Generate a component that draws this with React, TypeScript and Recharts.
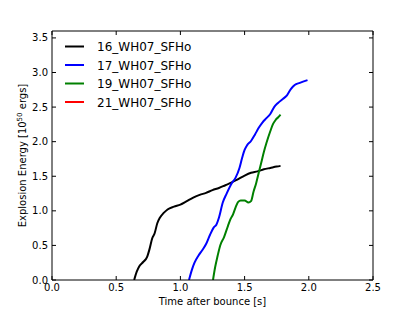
import React from "react";
import { LineChart, Line, XAxis, YAxis, Label } from "recharts";

// ---- data ----
const SERIES_NAMES = ["16_WH07_SFHo", "17_WH07_SFHo", "19_WH07_SFHo", "21_WH07_SFHo"];
const SERIES_COLORS = ["#000000", "#0000ff", "#008000", "#ff0000"];

const X_TICKS = [0, 0.5, 1.0, 1.5, 2.0, 2.5];
const Y_TICKS = [0, 0.5, 1.0, 1.5, 2.0, 2.5, 3.0, 3.5];

const t16 = [0.64, 0.66, 0.68, 0.71, 0.74, 0.76, 0.78, 0.8, 0.82, 0.84, 0.87, 0.9, 0.95, 1.0, 1.05, 1.1, 1.15, 1.2, 1.25, 1.3, 1.35, 1.4, 1.45, 1.5, 1.55, 1.6, 1.65, 1.7, 1.75, 1.78];
const e16 = [0.0, 0.12, 0.2, 0.26, 0.33, 0.45, 0.6, 0.68, 0.82, 0.9, 0.97, 1.02, 1.06, 1.09, 1.14, 1.19, 1.23, 1.26, 1.3, 1.33, 1.37, 1.41, 1.46, 1.51, 1.55, 1.57, 1.6, 1.62, 1.64, 1.65];

const t17 = [1.067, 1.09, 1.11, 1.14, 1.17, 1.2, 1.23, 1.26, 1.28, 1.3, 1.33, 1.36, 1.4, 1.43, 1.46, 1.48, 1.5, 1.52, 1.55, 1.58, 1.61, 1.64, 1.67, 1.7, 1.73, 1.76, 1.8, 1.83, 1.86, 1.89, 1.93, 1.99];
const e17 = [0.0, 0.15, 0.25, 0.35, 0.43, 0.52, 0.65, 0.76, 0.8, 0.9, 1.12, 1.25, 1.4, 1.48, 1.62, 1.76, 1.88, 1.95, 2.01, 2.1, 2.2, 2.28, 2.34, 2.4, 2.5, 2.56, 2.62, 2.67, 2.76, 2.82, 2.85, 2.89];

const t19 = [1.254, 1.27, 1.29, 1.31, 1.34, 1.37, 1.39, 1.41, 1.43, 1.45, 1.47, 1.5, 1.53, 1.55, 1.57, 1.59, 1.61, 1.63, 1.65, 1.67, 1.7, 1.72, 1.74, 1.76, 1.78];
const e19 = [0.0, 0.18, 0.35, 0.5, 0.62, 0.78, 0.88, 0.95, 1.05, 1.13, 1.15, 1.15, 1.12, 1.14, 1.28, 1.4, 1.55, 1.7, 1.85, 1.98, 2.15, 2.25, 2.31, 2.35, 2.39];

// 21_WH07_SFHo has no visible curve in the plot
const t21: number[] = [];
const e21: number[] = [];

const zip = (ts: number[], es: number[]) => ts.map((t, i) => ({ t, e: es[i] }));
const SERIES = [zip(t16, e16), zip(t17, e17), zip(t19, e19), zip(t21, e21)];

const FONT = "DejaVu Sans, sans-serif";
const W = 415;
const H = 312;

// matplotlib-style inward ticks
function BottomTick({ x, y, payload }: any) {
  return (
    <g>
      <line x1={x} y1={y} x2={x} y2={y - 4} stroke="#000" />
      <text x={x} y={y + 11} textAnchor="middle" fontSize={10} fontFamily={FONT} fill="#000">
        {Number(payload.value).toFixed(1)}
      </text>
    </g>
  );
}
function TopTick({ x, y }: any) {
  return <line x1={x} y1={y} x2={x} y2={y + 4} stroke="#000" />;
}
function LeftTick({ x, y, payload }: any) {
  return (
    <g>
      <line x1={x} y1={y} x2={x + 4} y2={y} stroke="#000" />
      <text x={x - 4} y={y + 3.5} textAnchor="end" fontSize={10} fontFamily={FONT} fill="#000">
        {Number(payload.value).toFixed(1)}
      </text>
    </g>
  );
}
function RightTick({ x, y }: any) {
  return <line x1={x} y1={y} x2={x - 4} y2={y} stroke="#000" />;
}

function YLabel({ viewBox }: any) {
  const cx = viewBox.x + 26;
  const cy = viewBox.y + viewBox.height / 2;
  return (
    <text
      x={cx}
      y={cy}
      transform={`rotate(-90 ${cx} ${cy})`}
      textAnchor="middle"
      fontSize={10}
      fontFamily={FONT}
      fill="#000"
    >
      Explosion Energy [10
      <tspan fontSize={7} dy={-4}>50</tspan>
      <tspan dy={4}> ergs]</tspan>
    </text>
  );
}

function XLabel({ viewBox }: any) {
  const cx = viewBox.x + viewBox.width / 2;
  return (
    <text x={cx} y={viewBox.y + 25} textAnchor="middle" fontSize={10} fontFamily={FONT} fill="#000">
      Time after bounce [s]
    </text>
  );
}

function LegendBox() {
  return (
    <svg width={W} height={H} style={{ position: "absolute", left: 0, top: 0, pointerEvents: "none" }}>
      {SERIES_NAMES.map((name, i) => {
        const y = 46.5 + i * 18.5;
        return (
          <g key={name}>
            <line x1={65} y1={y} x2={84} y2={y} stroke={SERIES_COLORS[i]} strokeWidth={2} />
            <text x={97} y={y + 4.5} fontSize={12} fontFamily={FONT} fill="#000">
              {name}
            </text>
          </g>
        );
      })}
    </svg>
  );
}

export default function App() {
  return (
    <div style={{ position: "absolute", left: 0, top: 0, width: W, height: H, background: "#fff" }}>
      <LineChart width={W} height={H} margin={{ top: 30, right: 41, left: 0, bottom: 0 }}>
        <XAxis
          xAxisId="b"
          type="number"
          dataKey="t"
          orientation="bottom"
          domain={[0, 2.5]}
          ticks={X_TICKS}
          allowDataOverflow
          height={32}
          tickSize={0}
          tickMargin={0}
          tickLine={false}
          axisLine={{ stroke: "#000" }}
          tick={<BottomTick />}
          interval={0}
        >
          <Label content={<XLabel />} />
        </XAxis>
        <XAxis
          xAxisId="top"
          type="number"
          dataKey="t"
          orientation="top"
          domain={[0, 2.5]}
          ticks={X_TICKS}
          allowDataOverflow
          height={1}
          tickSize={0}
          tickMargin={0}
          tickLine={false}
          axisLine={{ stroke: "#000" }}
          tick={<TopTick />}
          interval={0}
        />
        <YAxis
          yAxisId="l"
          type="number"
          domain={[0, 3.6]}
          ticks={Y_TICKS}
          allowDataOverflow
          width={52}
          tickSize={0}
          tickMargin={0}
          tickLine={false}
          axisLine={{ stroke: "#000" }}
          tick={<LeftTick />}
          interval={0}
        >
          <Label content={<YLabel />} />
        </YAxis>
        <YAxis
          yAxisId="r"
          orientation="right"
          type="number"
          domain={[0, 3.6]}
          ticks={Y_TICKS}
          allowDataOverflow
          width={1}
          tickSize={0}
          tickMargin={0}
          tickLine={false}
          axisLine={{ stroke: "#000" }}
          tick={<RightTick />}
          interval={0}
        />
        {SERIES.map((data, i) => (
          <Line
            key={SERIES_NAMES[i]}
            xAxisId="b"
            yAxisId="l"
            data={data}
            dataKey="e"
            name={SERIES_NAMES[i]}
            type="monotone"
            stroke={SERIES_COLORS[i]}
            strokeWidth={2}
            dot={false}
            isAnimationActive={false}
          />
        ))}
      </LineChart>
      <LegendBox />
    </div>
  );
}
